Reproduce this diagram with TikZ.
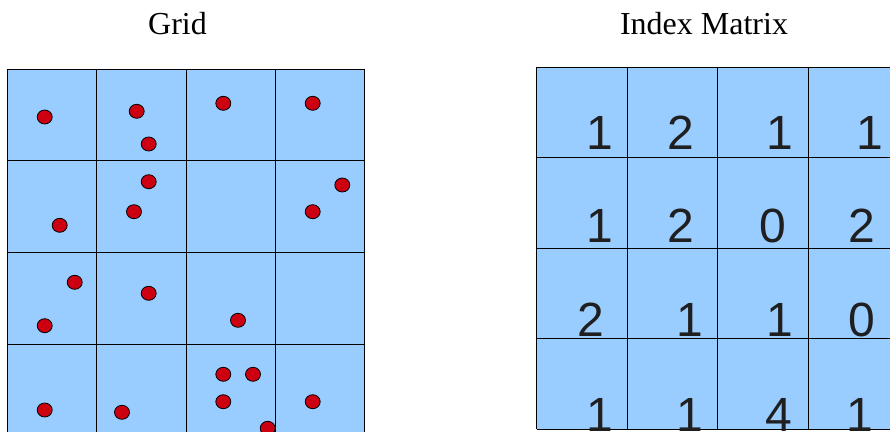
\documentclass[tikz,border=0pt]{standalone}
\usepackage{fontspec}
\setmainfont{Liberation Serif}
\newfontfamily\arialfont{Liberation Sans}
\usetikzlibrary{shapes.geometric}
\definecolor{cellblue}{HTML}{99CCFF}
\definecolor{dotred}{HTML}{CC0011}
\begin{document}
\begin{tikzpicture}[x=1pt,y=-1pt,
  dot/.style={ellipse, draw=black, line width=0.8pt, fill=dotred, minimum width=15pt, minimum height=14pt, inner sep=0pt},
  digit/.style={font=\arialfont\fontsize{48}{48}\selectfont, text=black!88, inner sep=0pt, anchor=base},
  title/.style={font=\fontsize{32}{32}\selectfont, inner sep=0pt, anchor=base},
  gridline/.style={draw=black, line width=1pt}]
\useasboundingbox (0,0) rectangle (890,431);
\begin{scope}
\clip (0,0) rectangle (890,431);
% left grid
\fill[cellblue] (7.5,69.3) rectangle (364.5,440);
\foreach \x in {7.5,96.8,186,275.5,364.5} \draw[gridline] (\x,69.3) -- (\x,440);
\foreach \y in {69.3,160.7,252.7,344} \draw[gridline] (7.5,\y) -- (364.5,\y);
% right grid
\fill[cellblue] (536.7,67.3) rectangle (900,429);
\foreach \x in {536.7,627.3,717.7,808.3} \draw[gridline] (\x,67.3) -- (\x,429);
\foreach \y in {67.3,157.7,248.3,338.7,429} \draw[gridline] (536.7,\y) -- (900,\y);
% dots
\node[dot] (d1) at (44.7,117) {};
\node[dot] (d2) at (136.7,111.3) {};
\node[dot] (d3) at (148.7,144) {};
\node[dot] (d4) at (148.7,181.7) {};
\node[dot] (d5) at (134,211.7) {};
\node[dot] (d6) at (59.7,225.3) {};
\node[dot] (d7) at (223.3,103.3) {};
\node[dot] (d8) at (312.7,103.3) {};
\node[dot] (d9) at (342.3,185) {};
\node[dot] (d10) at (312.7,211.7) {};
\node[dot] (d11) at (74.7,282.3) {};
\node[dot] (d12) at (44.7,325.7) {};
\node[dot] (d13) at (148.7,293.3) {};
\node[dot] (d14) at (44.7,410) {};
\node[dot] (d15) at (122,412.3) {};
\node[dot] (d16) at (238,320.3) {};
\node[dot] (d17) at (223.3,374.3) {};
\node[dot] (d18) at (253,374.3) {};
\node[dot] (d19) at (223.3,401.7) {};
\node[dot] (d20) at (312.7,401.7) {};
\node[dot] (d21) at (267.7,428.3) {};
% digits
\node[digit] (n11) at (599.5,149.3) {1};
\node[digit] (n12) at (681.3,149.3) {2};
\node[digit] (n13) at (780.1,149.3) {1};
\node[digit] (n14) at (870.1,149.3) {1};
\node[digit] (n21) at (599.5,242.7) {1};
\node[digit] (n22) at (681.3,242.7) {2};
\node[digit] (n23) at (772.5,242.7) {0};
\node[digit] (n24) at (862.2,242.7) {2};
\node[digit] (n31) at (591,336.7) {2};
\node[digit] (n32) at (689.5,336.7) {1};
\node[digit] (n33) at (780.1,336.7) {1};
\node[digit] (n34) at (862.2,336.7) {0};
\node[digit] (n41) at (599.5,431) {1};
\node[digit] (n42) at (689.5,431) {1};
\node[digit] (n43) at (779,431) {4};
\node[digit] (n44) at (859.8,431) {1};
\end{scope}
\node[title] (tgrid) at (177.5,34.3) {Grid};
\node[title] (tindex) at (704,34.3) {Index Matrix};
\end{tikzpicture}
\end{document}
